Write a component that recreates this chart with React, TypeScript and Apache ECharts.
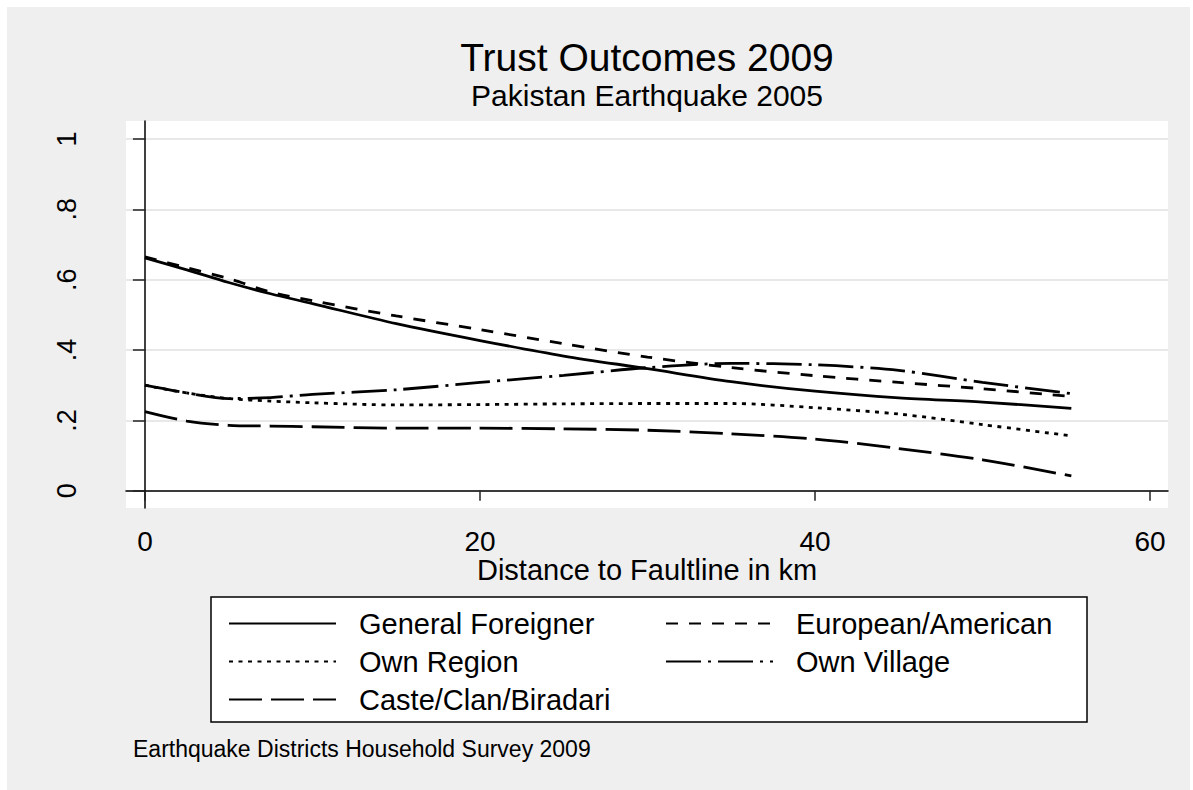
import React, { useEffect, useRef } from "react";
import * as echarts from "echarts";

const FONT = "Liberation Sans, Arial, Helvetica, sans-serif";

const distance = [0, 2.5, 5, 7.5, 10, 15, 20, 25, 30, 35, 40, 45, 50, 55.3];
const generalForeigner = [0.662, 0.628, 0.592, 0.56, 0.532, 0.475, 0.427, 0.383, 0.347, 0.31, 0.283, 0.264, 0.252, 0.234];
const europeanAmerican = [0.665, 0.634, 0.603, 0.565, 0.54, 0.497, 0.458, 0.418, 0.38, 0.35, 0.327, 0.308, 0.29, 0.268];
const ownRegion = [0.3, 0.278, 0.262, 0.255, 0.25, 0.244, 0.245, 0.247, 0.248, 0.248, 0.236, 0.218, 0.188, 0.156];
const ownVillage = [0.3, 0.278, 0.262, 0.265, 0.274, 0.287, 0.308, 0.328, 0.35, 0.362, 0.358, 0.342, 0.308, 0.276];
const casteClan = [0.225, 0.198, 0.186, 0.184, 0.182, 0.178, 0.178, 0.176, 0.172, 0.162, 0.147, 0.12, 0.088, 0.042];

const xTicks = [0, 20, 40, 60];
const yTicks = [0, 0.2, 0.4, 0.6, 0.8, 1];
const yTickLabels = ["0", ".2", ".4", ".6", ".8", "1"];

const seriesNames = ["General Foreigner", "European/American", "Own Region", "Own Village", "Caste/Clan/Biradari"];
const seriesValues = [generalForeigner, europeanAmerican, ownRegion, ownVillage, casteClan];
const seriesDash: (string | number[])[] = ["solid", [12, 11], [4, 5.5], [35, 7, 3, 7], [33, 9]];

export default function App() {
  const ref = useRef<HTMLDivElement>(null);
  useEffect(() => {
    if (!ref.current) return;
    const chart = echarts.init(ref.current, undefined, { renderer: "svg" });
    const series = seriesNames.map((name, i) => ({
      name,
      type: "line",
      data: distance.map((x, j) => [x, seriesValues[i][j]]),
      symbol: "none",
      smooth: 0.3,
      lineStyle: { color: "#000", width: 2.8, type: seriesDash[i] },
      itemStyle: { color: "#000" },
      z: 3,
    }));
    const legendCommon = {
      orient: "vertical",
      itemWidth: 107,
      itemHeight: 14,
      itemGap: 9,
      padding: 0,
      selectedMode: false,
      itemStyle: { opacity: 0, borderWidth: 0 },
      textStyle: { fontSize: 29, color: "#000", fontFamily: FONT, padding: [0, 0, 0, 18] },
    };
    chart.setOption({
      animation: false,
      backgroundColor: "transparent",
      textStyle: { fontFamily: FONT },
      grid: {
        left: 126,
        top: 121,
        right: 25,
        bottom: 282,
        show: true,
        backgroundColor: "#ffffff",
        borderWidth: 0,
      },
      xAxis: {
        type: "value",
        min: -1.13,
        max: 61.07,
        name: "Distance to Faultline in km",
        nameLocation: "middle",
        nameGap: 45,
        nameTextStyle: { fontSize: 29, color: "#000", fontFamily: FONT, verticalAlign: "top", lineHeight: 26 },
        axisLine: { show: true, lineStyle: { color: "#000", width: 1.5 } },
        axisTick: { show: true, length: 10, customValues: xTicks, lineStyle: { color: "#222", width: 1.5 } },
        axisLabel: { customValues: xTicks, fontSize: 28, color: "#000", fontFamily: FONT, margin: 19 },
        splitLine: { show: false },
      },
      yAxis: {
        type: "value",
        min: -0.049,
        max: 1.051,
        axisLine: { show: true, lineStyle: { color: "#000", width: 1.5 } },
        axisTick: { show: true, length: 12, customValues: yTicks, lineStyle: { color: "#222", width: 1.5 } },
        axisLabel: {
          customValues: yTicks,
          rotate: 90,
          fontSize: 27,
          color: "#000",
          fontFamily: FONT,
          margin: 46,
          formatter: (v: number) => {
            const idx = yTicks.findIndex((t) => Math.abs(t - v) < 1e-6);
            return idx >= 0 ? yTickLabels[idx] : "";
          },
        },
        splitLine: { show: true, lineStyle: { color: "#e8e8e8", width: 2 } },
      },
      legend: [
        { ...legendCommon, left: 228, top: 609, data: ["General Foreigner", "Own Region", "Caste/Clan/Biradari"] },
        { ...legendCommon, left: 665, top: 609, data: ["European/American", "Own Village"] },
      ],
      graphic: [
        {
          type: "rect",
          shape: { x: 211, y: 597, width: 876, height: 125 },
          style: { fill: "#ffffff", stroke: "#000", lineWidth: 1.5 },
          z: 0,
        },
        {
          type: "text",
          x: 647,
          y: 57,
          style: { text: "Trust Outcomes 2009", fontSize: 39, lineHeight: 34, fontFamily: FONT, fill: "#000", textAlign: "center", textVerticalAlign: "middle" },
        },
        {
          type: "text",
          x: 647,
          y: 95,
          style: { text: "Pakistan Earthquake 2005", fontSize: 30, lineHeight: 27, fontFamily: FONT, fill: "#000", textAlign: "center", textVerticalAlign: "middle" },
        },
        {
          type: "text",
          x: 133,
          y: 748.5,
          style: { text: "Earthquake Districts Household Survey 2009", fontSize: 23, fontFamily: FONT, fill: "#000", textAlign: "left", textVerticalAlign: "middle" },
        },
      ],
      series,
    });
    return () => chart.dispose();
  }, []);
  return (
    <div style={{ position: "fixed", left: 0, top: 0, width: 1193, height: 790, background: "#ffffff" }}>
      <div style={{ position: "absolute", left: 7, top: 7, width: 1183, height: 783, background: "#efefef" }} />
      <div ref={ref} style={{ position: "absolute", left: 0, top: 0, width: 1193, height: 790 }} />
    </div>
  );
}
